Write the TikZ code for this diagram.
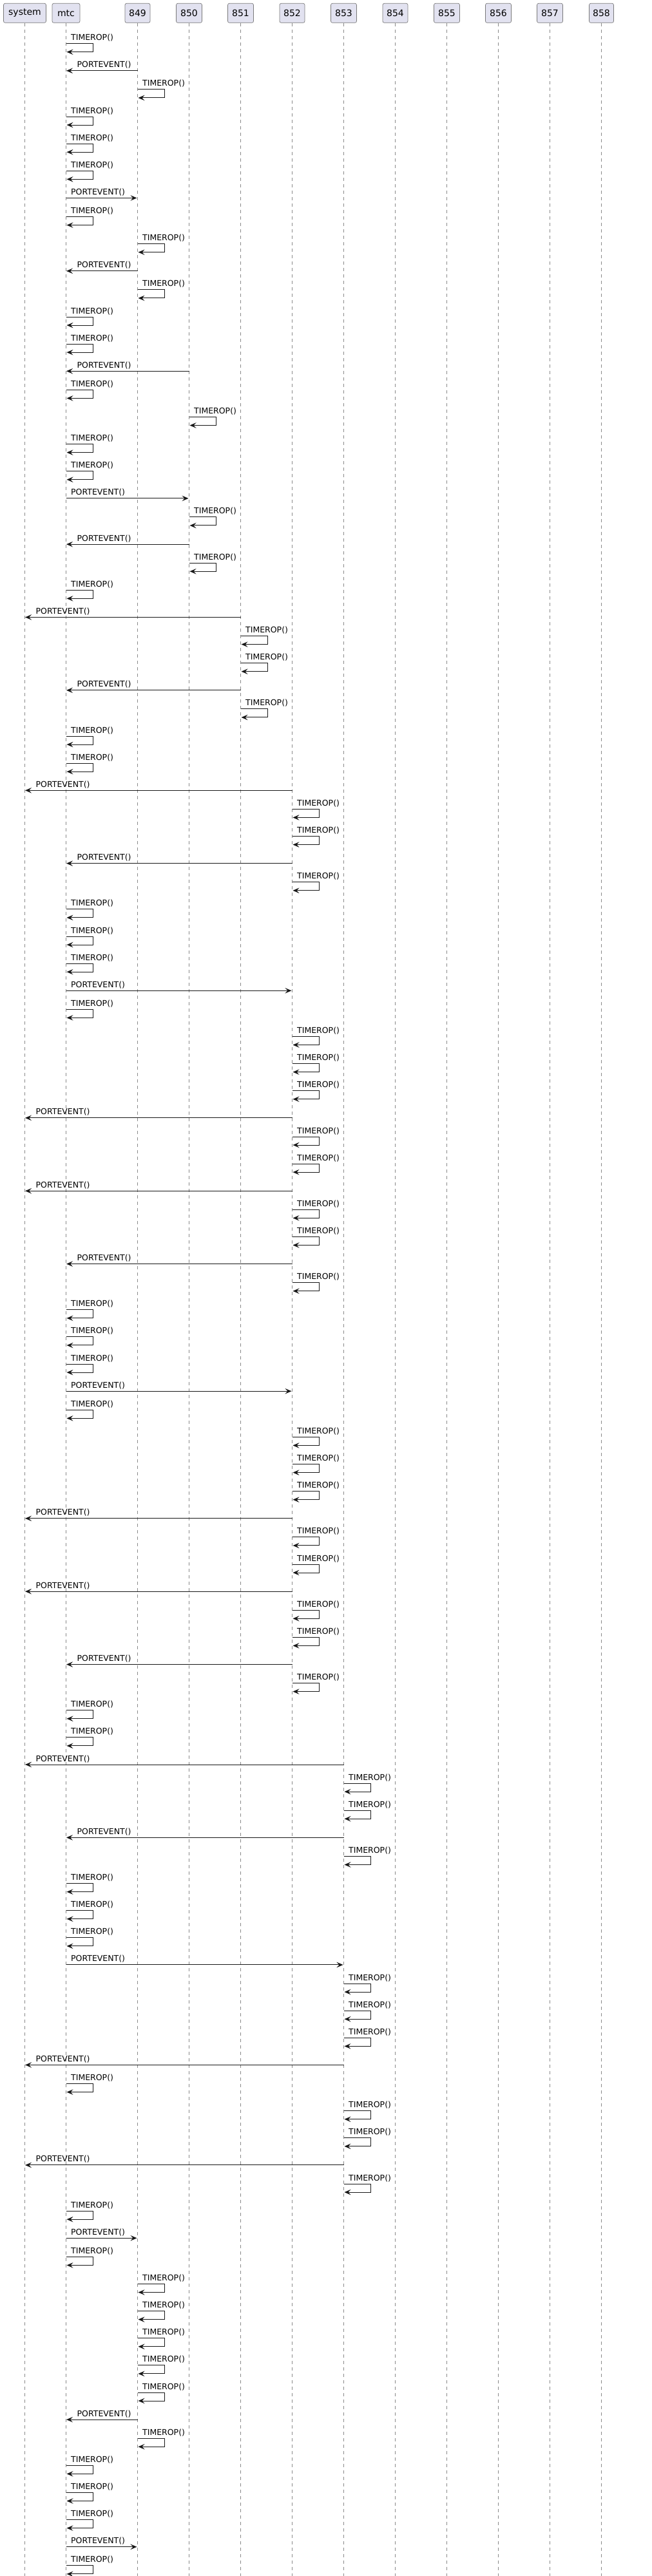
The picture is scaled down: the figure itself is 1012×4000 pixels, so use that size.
\documentclass[tikz,border=0pt]{standalone}
\usepackage{fontspec}
\setmainfont{DejaVu Sans}
\usetikzlibrary{arrows.meta,calc}
\definecolor{partfill}{HTML}{E2E2F0}
\definecolor{ink}{HTML}{181818}
\definecolor{partborder}{HTML}{7A7A7A}
\definecolor{lifegray}{HTML}{8A8A8A}
\tikzset{
  part/.style={draw=partborder, line width=0.7pt, fill=partfill, rounded corners=2.5pt,
    minimum height=30pt, inner sep=0pt, font=\fontsize{14}{16}\selectfont},
  lifeline/.style={draw=lifegray, line width=0.8pt, dash pattern=on 5pt off 5pt},
  msgline/.style={draw=ink, line width=1pt, -{Stealth[length=10pt,width=8.5pt,inset=4pt]}},
  msglabel/.style={anchor=base west, inner sep=0pt, font=\fontsize{12.5}{15}\selectfont, text=black},
}
\newcount\msgn
\def\cury{67.7}
\def\selfstep{42.12}
\def\regstep{29.12}
\newcommand\selfm[1]{%
  \global\advance\msgn by 1
  \coordinate (s\the\msgn) at (#1 |- 0,\cury);
  \coordinate (r\the\msgn) at ($(s\the\msgn)+(1,13)$);
  \draw[msgline] (s\the\msgn) -- ++(42,0) |- (r\the\msgn);
  \node[msglabel] (t\the\msgn) at ($(s\the\msgn)+(7.5,-5)$) {TIMEROP()};
  \pgfmathparse{\cury+\selfstep}\xdef\cury{\pgfmathresult}%
}
\newcommand\rmsg[2]{%
  \global\advance\msgn by 1
  \coordinate (a\the\msgn) at (#1 |- 0,\cury);
  \coordinate (b\the\msgn) at (#2 |- 0,\cury);
  \draw[msgline, shorten >=1pt] (a\the\msgn) -- (b\the\msgn);
  \node[msglabel] (t\the\msgn) at ($(a\the\msgn)+(7.5,-5)$) {PORTEVENT()};
  \pgfmathparse{\cury+\regstep}\xdef\cury{\pgfmathresult}%
}
\newcommand\lmsg[2]{%
  \global\advance\msgn by 1
  \coordinate (a\the\msgn) at (#1 |- 0,\cury);
  \coordinate (b\the\msgn) at (#2 |- 0,\cury);
  \draw[msgline, shorten >=0.5pt] (a\the\msgn) -- (b\the\msgn);
  \node[msglabel] (t\the\msgn) at ($(b\the\msgn)+(17,-5)$) {PORTEVENT()};
  \pgfmathparse{\cury+\regstep}\xdef\cury{\pgfmathresult}%
}
\begin{document}
\begin{tikzpicture}[x=1pt, y=-1pt]
  \path[use as bounding box, fill=white] (0,0) rectangle (1012,4000);
  % participants
  \node[part, minimum width=66pt] (psystem) at (38.5,20.3) {system};
  \node[part, minimum width=43pt] (pmtc) at (102.5,20.3) {mtc};
  \node[part, minimum width=39pt] (p849) at (213.5,20.3) {849};
  \node[part, minimum width=40pt] (p850) at (293.5,20.3) {850};
  \node[part, minimum width=40pt] (p851) at (373.5,20.3) {851};
  \node[part, minimum width=39pt] (p852) at (453.5,20.3) {852};
  \node[part, minimum width=40pt] (p853) at (533.5,20.3) {853};
  \node[part, minimum width=39pt] (p854) at (613.5,20.3) {854};
  \node[part, minimum width=40pt] (p855) at (693.5,20.3) {855};
  \node[part, minimum width=40pt] (p856) at (773.5,20.3) {856};
  \node[part, minimum width=40pt] (p857) at (853.5,20.3) {857};
  \node[part, minimum width=38pt] (p858) at (933.5,20.3) {858};
  % lifelines
  \foreach \p in {psystem,pmtc,p849,p850,p851,p852,p853,p854,p855,p856,p857,p858}{
    \coordinate (\p end) at (\p.south |- 0,4000);
    \draw[lifeline] (\p.south) -- (\p end);
  }
  % messages
  \selfm{pmtc}
  \lmsg{p849}{pmtc}
  \selfm{p849}
  \selfm{pmtc}
  \selfm{pmtc}
  \selfm{pmtc}
  \rmsg{pmtc}{p849}
  \selfm{pmtc}
  \selfm{p849}
  \lmsg{p849}{pmtc}
  \selfm{p849}
  \selfm{pmtc}
  \selfm{pmtc}
  \lmsg{p850}{pmtc}
  \selfm{pmtc}
  \selfm{p850}
  \selfm{pmtc}
  \selfm{pmtc}
  \rmsg{pmtc}{p850}
  \selfm{p850}
  \lmsg{p850}{pmtc}
  \selfm{p850}
  \selfm{pmtc}
  \lmsg{p851}{psystem}
  \selfm{p851}
  \selfm{p851}
  \lmsg{p851}{pmtc}
  \selfm{p851}
  \selfm{pmtc}
  \selfm{pmtc}
  \lmsg{p852}{psystem}
  \selfm{p852}
  \selfm{p852}
  \lmsg{p852}{pmtc}
  \selfm{p852}
  \selfm{pmtc}
  \selfm{pmtc}
  \selfm{pmtc}
  \rmsg{pmtc}{p852}
  \selfm{pmtc}
  \selfm{p852}
  \selfm{p852}
  \selfm{p852}
  \lmsg{p852}{psystem}
  \selfm{p852}
  \selfm{p852}
  \lmsg{p852}{psystem}
  \selfm{p852}
  \selfm{p852}
  \lmsg{p852}{pmtc}
  \selfm{p852}
  \selfm{pmtc}
  \selfm{pmtc}
  \selfm{pmtc}
  \rmsg{pmtc}{p852}
  \selfm{pmtc}
  \selfm{p852}
  \selfm{p852}
  \selfm{p852}
  \lmsg{p852}{psystem}
  \selfm{p852}
  \selfm{p852}
  \lmsg{p852}{psystem}
  \selfm{p852}
  \selfm{p852}
  \lmsg{p852}{pmtc}
  \selfm{p852}
  \selfm{pmtc}
  \selfm{pmtc}
  \lmsg{p853}{psystem}
  \selfm{p853}
  \selfm{p853}
  \lmsg{p853}{pmtc}
  \selfm{p853}
  \selfm{pmtc}
  \selfm{pmtc}
  \selfm{pmtc}
  \rmsg{pmtc}{p853}
  \selfm{p853}
  \selfm{p853}
  \selfm{p853}
  \lmsg{p853}{psystem}
  \selfm{pmtc}
  \selfm{p853}
  \selfm{p853}
  \lmsg{p853}{psystem}
  \selfm{p853}
  \selfm{pmtc}
  \rmsg{pmtc}{p849}
  \selfm{pmtc}
  \selfm{p849}
  \selfm{p849}
  \selfm{p849}
  \selfm{p849}
  \selfm{p849}
  \lmsg{p849}{pmtc}
  \selfm{p849}
  \selfm{pmtc}
  \selfm{pmtc}
  \selfm{pmtc}
  \rmsg{pmtc}{p849}
  \selfm{pmtc}
\end{tikzpicture}
\end{document}
